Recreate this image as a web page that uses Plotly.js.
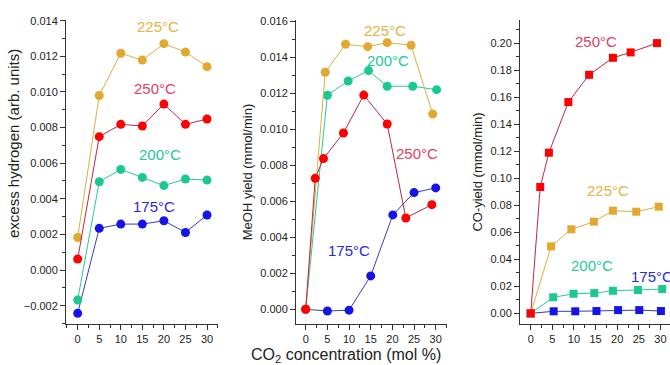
<!DOCTYPE html>
<html><head><meta charset="utf-8">
<script src="https://cdn.plot.ly/plotly-3.0.1.min.js"></script>
<style>html,body{margin:0;padding:0;background:#fff}#chart{width:670px;height:365px}</style>
</head><body><div id="chart"></div>
<script>
// Panel 1: excess hydrogen
const co2Fixed = [0, 5, 10, 15, 20, 25, 30];
const h2_175 = [-0.00243, 0.00234, 0.00258, 0.00258, 0.00277, 0.00211, 0.00309];
const h2_200 = [-0.00168, 0.00496, 0.00565, 0.00520, 0.00474, 0.00511, 0.00505];
const h2_225 = [0.00183, 0.00980, 0.01217, 0.01179, 0.01271, 0.01224, 0.01142];
const h2_250 = [0.00062, 0.00749, 0.00818, 0.00809, 0.00932, 0.00818, 0.00848];

// Panel 2: MeOH yield
const meoh_x_175 = [0, 5.0, 10.0, 15.0, 20.1, 25.0, 30.0];
const meoh_y_175 = [0, -0.0001, -0.00005, 0.00185, 0.00524, 0.00648, 0.00674];
const meoh_x_200 = [0, 5.0, 9.8, 14.5, 18.8, 24.7, 30.2];
const meoh_y_200 = [0, 0.01189, 0.01268, 0.01326, 0.01239, 0.01239, 0.01220];
const meoh_x_225 = [0, 4.5, 9.2, 14.3, 18.8, 24.3, 29.3];
const meoh_y_225 = [0, 0.01317, 0.01472, 0.01459, 0.01481, 0.01467, 0.01085];
const meoh_x_250 = [0, 2.2, 4.1, 8.7, 13.4, 18.8, 23.1, 29.1];
const meoh_y_250 = [0, 0.00728, 0.00837, 0.00979, 0.01190, 0.01029, 0.00507, 0.00581];

// Panel 3: CO yield
const co_x_175 = [0, 5.3, 10.3, 15.2, 20.2, 25.1, 30.1];
const co_y_175 = [0, 0.0015, 0.0015, 0.0017, 0.0024, 0.0024, 0.0017];
const co_x_200 = [0, 5.2, 9.9, 14.7, 19.0, 24.8, 30.4];
const co_y_200 = [0, 0.0119, 0.0145, 0.0150, 0.0167, 0.0173, 0.0180];
const co_x_225 = [0, 4.7, 9.4, 14.6, 19.0, 24.4, 29.6];
const co_y_225 = [0, 0.0496, 0.0622, 0.0679, 0.0760, 0.0753, 0.0790];
const co_x_250 = [0, 2.2, 4.2, 8.7, 13.5, 19.0, 23.1, 29.2];
const co_y_250 = [0, 0.0936, 0.1190, 0.1565, 0.1767, 0.1893, 0.1933, 0.2002];

const xTicks = [0, 5, 10, 15, 20, 25, 30];
const temps = ['175°C', '200°C', '225°C', '250°C'];
const markerColors = ['#1414E6', '#1BC98E', '#E2A82F', '#FF0000'];
const lineColors = ['#3B3BB5', '#2BC99A', '#D9B040', '#B8284A'];
const labelColors = ['#2A2AD0', '#22C99A', '#E2B445', '#E0405E'];

// label anchor positions per panel (data coords)
const lab1 = [[17.7, 0.00359], [19.1, 0.00646], [18.7, 0.01366], [18.05, 0.0102]];
const lab2 = [[10.0, 0.00329], [19.0, 0.01381], [18.4, 0.01546], [25.7, 0.00868]];
const lab3 = [[28.0, 0.0276], [14.2, 0.0352], [17.9, 0.0908], [15.1, 0.2017]];

const traces = [];
const h2 = [h2_175, h2_200, h2_225, h2_250];
const mx = [meoh_x_175, meoh_x_200, meoh_x_225, meoh_x_250];
const my = [meoh_y_175, meoh_y_200, meoh_y_225, meoh_y_250];
const cx = [co_x_175, co_x_200, co_x_225, co_x_250];
const cy = [co_y_175, co_y_200, co_y_225, co_y_250];

for (let i = 0; i < 4; i++) {
  traces.push({x: co2Fixed, y: h2[i], xaxis: 'x', yaxis: 'y', type: 'scatter', mode: 'lines+markers',
    name: temps[i], line: {color: lineColors[i], width: 1}, marker: {symbol: 'circle', size: 9, color: markerColors[i]}, cliponaxis: false});
}
for (let i = 0; i < 4; i++) {
  traces.push({x: mx[i], y: my[i], xaxis: 'x2', yaxis: 'y2', type: 'scatter', mode: 'lines+markers',
    name: temps[i], line: {color: lineColors[i], width: 1}, marker: {symbol: 'circle', size: 9, color: markerColors[i]}, cliponaxis: false});
}
for (let i = 0; i < 4; i++) {
  traces.push({x: cx[i], y: cy[i], xaxis: 'x3', yaxis: 'y3', type: 'scatter', mode: 'lines+markers',
    name: temps[i], line: {color: lineColors[i], width: 1}, marker: {symbol: 'square', size: 8, color: markerColors[i]}, cliponaxis: false});
}

const W = 670, H = 365;
const tickFont = {family: 'Arial, Liberation Sans, sans-serif', size: 11, color: '#222'};
function xax(l, r, range) {
  return {domain: [l / W, r / W], range: range, anchor: undefined, showline: true, linecolor: '#333', linewidth: 1,
    ticks: 'outside', ticklen: 5, tickcolor: '#333', tickvals: xTicks, showgrid: false, zeroline: false,
    tickfont: tickFont, minor: {ticks: 'outside', ticklen: 3, dtick: 2.5, tick0: 0, tickcolor: '#333'}, fixedrange: true};
}
function yax(range, dtick, fmt, minorD) {
  return {domain: [1 - 324 / H, 1 - 20 / H], range: range, showline: true, linecolor: '#333', linewidth: 1,
    ticks: 'outside', ticklen: 5, tickcolor: '#333', dtick: dtick, tick0: 0, tickformat: fmt, showgrid: false, zeroline: false,
    tickfont: tickFont, minor: {ticks: 'outside', ticklen: 3, dtick: minorD, tick0: 0, tickcolor: '#333'}, fixedrange: true};
}

const layout = {
  width: W, height: H, margin: {l: 0, r: 0, t: 0, b: 0}, showlegend: false,
  paper_bgcolor: '#fff', plot_bgcolor: '#fff',
  font: {family: 'Arial, Liberation Sans, sans-serif'},
  xaxis: Object.assign(xax(66, 218, [-2.71, 32.55]), {anchor: 'y'}),
  yaxis: Object.assign(yax([-0.00303, 0.01404], 0.002, '.3f', 0.001), {anchor: 'x'}),
  xaxis2: Object.assign(xax(296, 447, [-2.24, 32.6]), {anchor: 'y2'}),
  yaxis2: Object.assign(yax([-0.00082, 0.01607], 0.002, '.3f', 0.001), {anchor: 'x2',
    title: {text: 'MeOH yield (mmol/min)', font: {size: 13, color: '#222'}, standoff: 4}}),
  xaxis3: Object.assign(xax(520, 670, [-2.48, 32.2]), {anchor: 'y3'}),
  yaxis3: Object.assign(yax([-0.0079, 0.2173], 0.02, '.2f', 0.01), {anchor: 'x3',
    title: {text: 'CO-yield (mmol/min)', font: {size: 13, color: '#222'}, standoff: 4}}),
  annotations: []
};

layout.annotations.push({xref: 'paper', yref: 'paper', x: 14 / W, y: 1 - 144 / H, text: 'excess hydrogen (arb. units)',
  textangle: -90, showarrow: false, font: {size: 15, color: '#222'}, xanchor: 'center', yanchor: 'middle'});
layout.annotations.push({xref: 'paper', yref: 'paper', x: 346 / W, y: 1 - 355 / H, text: 'CO<sub>2</sub> concentration (mol %)',
  showarrow: false, font: {size: 16, color: '#222'}, xanchor: 'center', yanchor: 'middle'});

const labs = [lab1, lab2, lab3];
const axs = [['x', 'y'], ['x2', 'y2'], ['x3', 'y3']];
for (let p = 0; p < 3; p++) {
  for (let i = 0; i < 4; i++) {
    layout.annotations.push({xref: axs[p][0], yref: axs[p][1], x: labs[p][i][0], y: labs[p][i][1], text: temps[i],
      showarrow: false, font: {size: 15, color: labelColors[i]}, xanchor: 'center', yanchor: 'middle'});
  }
}

Plotly.newPlot('chart', traces, layout, {displayModeBar: false, staticPlot: true});
</script></body></html>
